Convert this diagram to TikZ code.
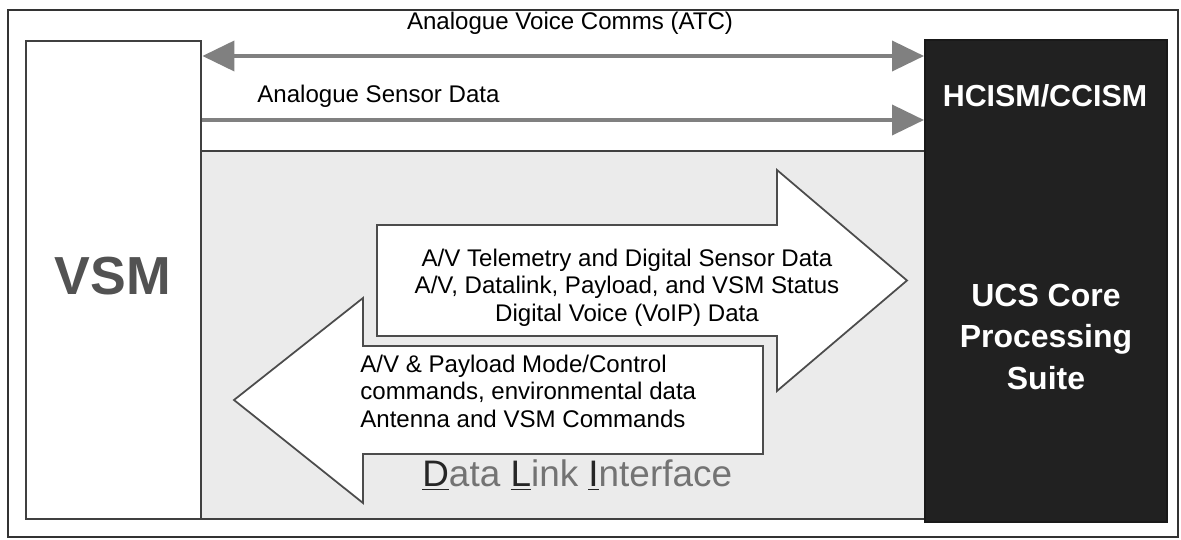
\documentclass[tikz,border=0pt]{standalone}
\usepackage{fontspec}
\setmainfont{Liberation Sans}
\usetikzlibrary{arrows.meta}

\begin{document}
\begin{tikzpicture}[x=0.02cm, y=-0.02cm,
  frame/.style={draw=black!80, line width=0.8pt},
  module/.style={rectangle, inner sep=0pt, anchor=north west, line width=1.4pt},
  flow/.style={draw=black!50, line width=2.2pt},
  blockarrow/.style={draw=black!70, fill=white, line width=1pt, line join=miter},
  txt/.style={inner sep=0pt, font=\fontsize{13.7}{15.6}\selectfont},
  boxtitle/.style={inner sep=0pt, text=white, font=\bfseries\fontsize{17.3}{20}\selectfont},
  boxbody/.style={inner sep=0pt, text=white, align=center, font=\bfseries\fontsize{18.2}{23.6}\selectfont}
]
\useasboundingbox (0,0) rectangle (1181,540);
\fill[white] (0,0) rectangle (1181,540);

% outer frame
\draw[frame] (8,10) rectangle (1178,537);

% shaded data link area between the two modules
\fill[black!8] (200,151) rectangle (924,519);
\draw[black!75, line width=1.1pt] (200,151) -- (924,151);
\draw[black!75, line width=1.1pt] (200,519) -- (924,519);

% modules
\node[module, draw=black!75, fill=white, minimum width=3.5cm, minimum height=9.56cm] (vsm) at (25,40) {};
\node[module, draw=black!90, fill=black!87, minimum width=4.84cm, minimum height=9.64cm] (ucs) at (924,38.7) {};

\node[inner sep=0pt, anchor=base, text=black!68, font=\bfseries\fontsize{30.5}{33}\selectfont] (vsmlabel) at (113,295) {VSM};
\node[boxtitle, anchor=base] (hcism) at (1045,107) {HCISM/CCISM};
\node[boxbody, anchor=north] (core) at (1046,283.6) {UCS Core\\Processing\\Suite};

% analogue links
\coordinate (atc) at (560,56);
\coordinate (sens) at (560,120);
\draw[flow, {Triangle[length=0.64cm,width=0.6cm]}-{Triangle[length=0.64cm,width=0.6cm]}]
  (vsm.east |- atc) -- (ucs.west |- atc);
\draw[flow, -{Triangle[length=0.64cm,width=0.6cm]}]
  (vsm.east |- sens) -- (ucs.west |- sens);
\node[txt, anchor=base] (atclabel) at (570,30) {Analogue Voice Comms (ATC)};
\node[txt, anchor=base west] (senslabel) at (257,103) {Analogue Sensor Data};

% data link block arrows
\draw[blockarrow] (377,225) -- (777,225) -- (777,170) -- (907,280.5) -- (777,391)
  -- (777,336) -- (377,336) -- cycle;
\draw[blockarrow] (763,346) -- (363,346) -- (363,298) -- (234,400) -- (363,503)
  -- (363,454) -- (763,454) -- cycle;

\node[txt, anchor=north, align=center] (downlink) at (627,248.5)
  {A/V Telemetry and Digital Sensor Data\\A/V, Datalink, Payload, and VSM Status\\Digital Voice (VoIP) Data};
\node[txt, anchor=north west, align=left] (uplink) at (360,354.5)
  {A/V \& Payload Mode/Control\\commands, environmental data\\Antenna and VSM Commands};

\node[inner sep=0pt, anchor=base west, text=black!55, font=\fontsize{21}{24}\selectfont] (dli) at (422,487)
  {\textcolor{black!85}{\underline{D}}ata \textcolor{black!85}{\underline{L}}ink \textcolor{black!85}{\underline{I}}nterface};
\end{tikzpicture}
\end{document}
